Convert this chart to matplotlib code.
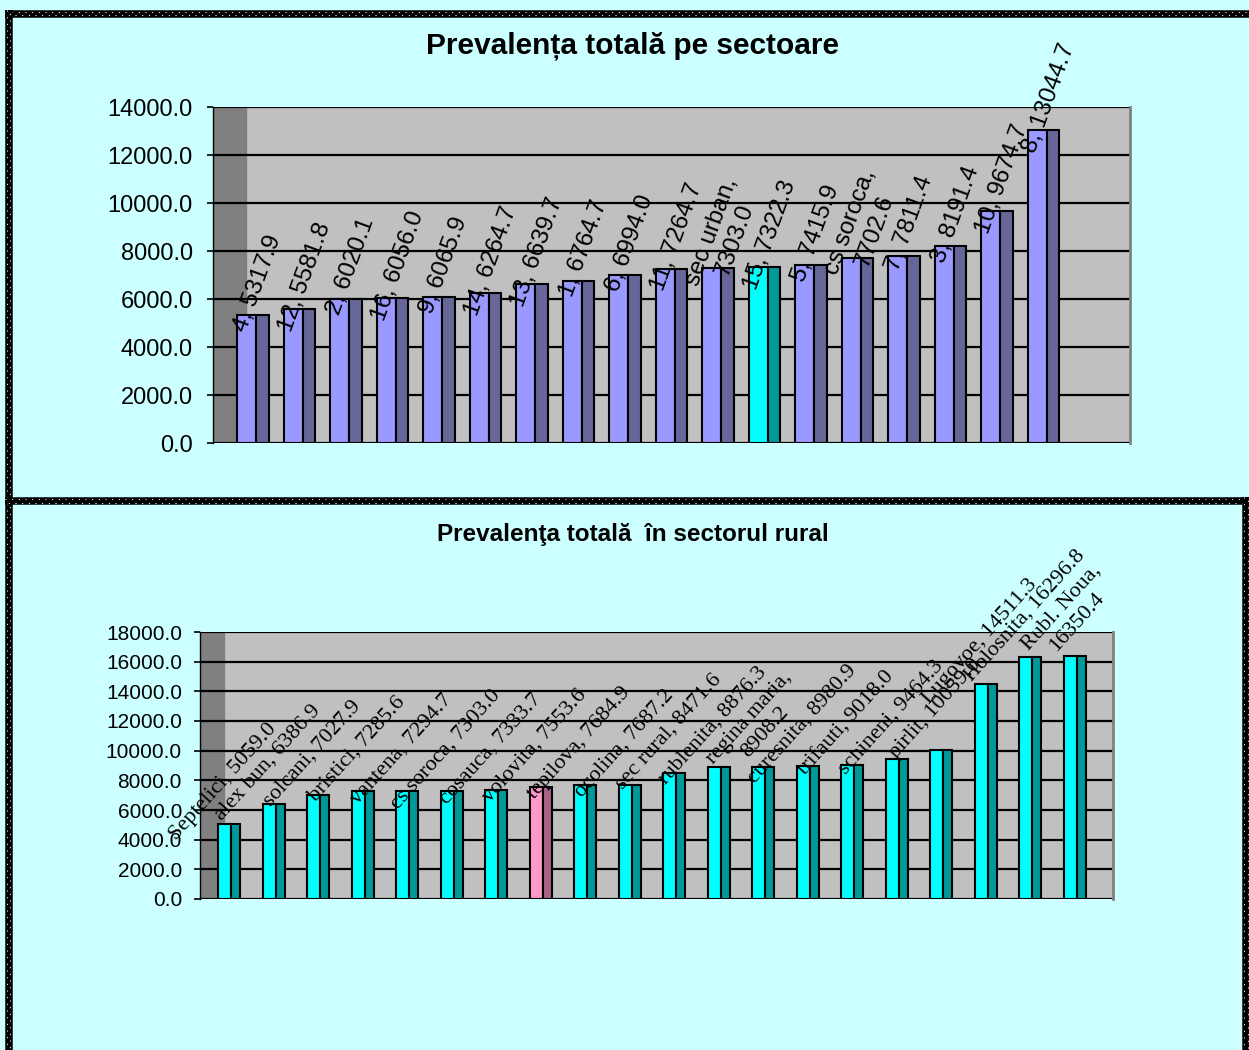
import numpy as np
import matplotlib.pyplot as plt
from matplotlib.lines import Line2D
from matplotlib.patches import Rectangle
from matplotlib.ticker import FormatStrFormatter

W, H = 1249, 1050
BG = "#CCFFFF"

# top chart: sectors
sector_names = ["4", "12", "2", "16", "9", "14", "13", "1", "6", "11",
                "sec urban", "15", "5", "cs soroca", "7", "3", "10", "8"]
sector_values = [5317.9, 5581.8, 6020.1, 6056.0, 6065.9, 6264.7, 6639.7,
                 6764.7, 6994.0, 7264.7, 7303.0, 7322.3, 7415.9, 7702.6,
                 7811.4, 8191.4, 9674.7, 13044.7]
sector_wrapped = {"sec urban", "cs soroca"}
sector_highlight = "15"

# bottom chart: rural localities
rural_names = ["Septelici", "alex bun", "solcani", "bristici", "vantena",
               "cs soroca", "cosauca", "volovita", "tepilova", "ocolina",
               "sec rural", "rublenita", "regina maria", "curesnita",
               "trifauti", "schineni", "pirlit", "Lugovoe", "Holosnita",
               "Rubl. Noua"]
rural_values = [5059.0, 6386.9, 7027.9, 7285.6, 7294.7, 7303.0, 7333.7,
                7553.6, 7684.9, 7687.2, 8471.6, 8876.3, 8908.2, 8980.9,
                9018.0, 9464.3, 10059.0, 14511.3, 16296.8, 16350.4]
rural_wrapped = {"regina maria", "Rubl. Noua"}
rural_highlight = "volovita"

plt.rcParams['font.family'] = ['Liberation Sans', 'DejaVu Sans']

fig = plt.figure(figsize=(W / 100, H / 100), dpi=100, facecolor=BG)


def px_axes(x0, y0, x1, y1):
    return fig.add_axes([x0 / W, 1 - y1 / H, (x1 - x0) / W, (y1 - y0) / H])


def bar_chart(ax, names, values, wrapped, hi, colors, hi_colors, ymax, step,
              ax_px, pitch, bar_px, front_px, gap_px, wall_px,
              tick_size, tick_pad, lab_font, lab_size, lab_rot, lab_dx, lab_lift):
    n = len(values)
    x = np.arange(n)
    bw = bar_px / pitch
    fw = front_px / pitch
    left = -bw / 2 - gap_px / pitch
    ax.set_xlim(left, left + ax_px / pitch)
    ax.set_ylim(0, ymax)
    ax.set_facecolor("#C0C0C0")

    # dark side wall of the 3-D plot area
    ax.add_patch(Rectangle((0, 0), wall_px / ax_px, 1, transform=ax.transAxes,
                           color="#808080", zorder=0.5))
    ticks = np.arange(0, ymax + 1, step)
    for t in ticks:
        ax.axhline(t, color="black", lw=1.6, zorder=1)
    ax.plot([1, 1], [0, 1], transform=ax.transAxes, color="#808080", lw=2,
            clip_on=False, zorder=1)

    fronts = [hi_colors[0] if nm == hi else colors[0] for nm in names]
    sides = [hi_colors[1] if nm == hi else colors[1] for nm in names]
    ax.bar(x - bw / 2, values, width=fw, align="edge", color=fronts,
           edgecolor="black", lw=1.5, zorder=2)
    ax.bar(x - bw / 2 + fw, values, width=bw - fw, align="edge", color=sides,
           edgecolor="black", lw=1.5, zorder=2)

    for i, (nm, v) in enumerate(zip(names, values)):
        sep = ",\n" if nm in wrapped else ", "
        ax.annotate(f"{nm}{sep}{v:.1f}", xy=(i, v), xytext=(lab_dx, lab_lift),
                    textcoords="offset points", rotation=lab_rot,
                    rotation_mode="anchor", ha="center", va="center",
                    multialignment="center", fontsize=lab_size,
                    family=lab_font, zorder=4)

    ax.set_xticks([])
    ax.set_yticks(ticks)
    ax.yaxis.set_major_formatter(FormatStrFormatter("%.1f"))
    ax.tick_params(axis="y", length=4.5, width=1.2, labelsize=tick_size,
                   pad=tick_pad)
    for s in ["top", "right", "bottom"]:
        ax.spines[s].set_visible(False)
    ax.spines["left"].set_color("black")
    ax.spines["left"].set_linewidth(1.0)


ax1 = px_axes(213, 107, 1130, 443)
bar_chart(ax1, sector_names, sector_values, sector_wrapped, sector_highlight,
          ("#9999FF", "#666699"), ("#00FFFF", "#009999"), 14000, 2000,
          917, 46.5, 31.5, 19, 24, 33,
          17, 10, ['Liberation Sans', 'DejaVu Sans'], 17.5, 70, 4, 23)

ax2 = px_axes(200, 632, 1113, 899)
bar_chart(ax2, rural_names, rural_values, rural_wrapped, rural_highlight,
          ("#00FFFF", "#009999"), ("#FF99CC", "#A86389"), 18000, 2000,
          913, 44.5, 22, 13, 18, 24,
          15, 8.5, ['Liberation Serif', 'DejaVu Serif'], 16, 48, -4, 30)

fig.text(633 / W, 1 - 46 / H, "Prevalența totală pe sectoare", ha="center",
         va="center", fontsize=21.5, fontweight="bold")
fig.text(633 / W, 1 - 534 / H, "Prevalenţa totală  în sectorul rural",
         ha="center", va="center", fontsize=17.5, fontweight="bold")


def border(x0, y0, x1, y1):
    # black band with two staggered rows of white dots
    horiz = y0 == y1
    xs = [x0 / W, x1 / W]
    ys = [1 - y0 / H, 1 - y1 / H]
    fig.add_artist(Line2D(xs, ys, transform=fig.transFigure, color="black",
                          lw=7.5 * 0.72, solid_capstyle="butt"))
    for off, phase in [(-1.9, 0.0), (1.9, 3.2)]:
        if horiz:
            xx, yy = xs, [1 - (y0 + off) / H] * 2
        else:
            xx, yy = [(x0 + off) / W] * 2, ys
        fig.add_artist(Line2D(xx, yy, transform=fig.transFigure, color="white",
                              lw=0.75, linestyle=(phase, (1, 5.4)),
                              dash_capstyle="butt"))


border(5, 13.5, 1249, 13.5)
border(8.5, 10, 8.5, 1050)
border(5, 501, 1249, 501)
border(1246, 497, 1246, 1050)

fig.savefig("out.png", dpi=100, facecolor=BG)
